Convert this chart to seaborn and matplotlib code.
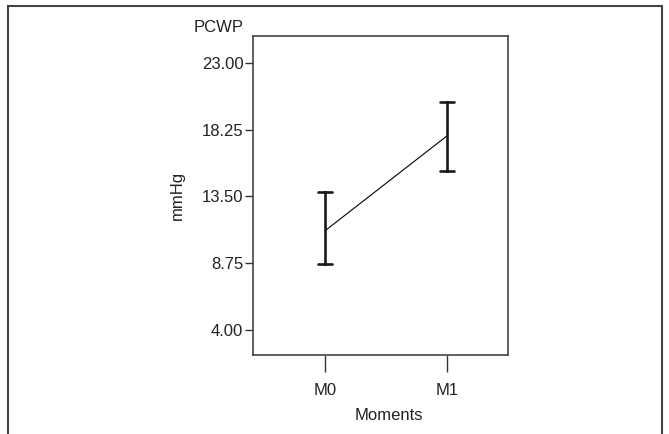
import numpy as np
import pandas as pd
import matplotlib
matplotlib.use("Agg")
import matplotlib.pyplot as plt
import seaborn as sns
from matplotlib.patches import Rectangle

# Data
moments = ["M0", "M1"]
means = [11.05, 17.8]
lower = [8.7, 15.3]
upper = [13.8, 20.2]
yticks = [4.00, 8.75, 13.50, 18.25, 23.00]

rows = []
for m, lo, mu, hi in zip(moments, lower, means, upper):
    for v in (lo, mu, hi):
        rows.append({"Moments": m, "mmHg": v})
df = pd.DataFrame(rows)

sns.set_style("white")
plt.rcParams["font.family"] = ["Liberation Sans", "DejaVu Sans"]

fig = plt.figure(figsize=(6.69, 4.34), dpi=100)
ax = fig.add_axes([253/669, 1 - 355/434, 255/669, 319/434])

sns.pointplot(data=df, x="Moments", y="mmHg", order=moments,
              estimator=np.median, errorbar=lambda x: (x.min(), x.max()),
              color="black", marker="", linestyle="-", linewidth=0.8,
              err_kws={"linewidth": 1.9, "color": "#1a1a1a"}, capsize=0.12,
              ax=ax)

ax.set_xlim(-0.59, 1.5)
ax.set_ylim(2.22, 24.9)
ax.set_yticks(yticks)
ax.set_yticklabels([f"{t:.2f}" for t in yticks])
ax.set_xlabel("")
ax.set_ylabel("mmHg", fontsize=12, color="#222222", labelpad=12)
ax.tick_params(axis="y", direction="out", length=6, width=1, colors="#333333",
               labelsize=12, labelcolor="#222222", left=True, pad=1)
ax.tick_params(axis="x", direction="out", length=12, width=1, colors="#333333",
               labelsize=12, labelcolor="#222222", bottom=True, pad=8)
for s in ax.spines.values():
    s.set_visible(True)
    s.set_color("#444444")
    s.set_linewidth(1.2)

fig.text(194/669, 1 - 27/434, "PCWP", fontsize=12, color="#222222",
         ha="left", va="center")
fig.text(389/669, 1 - 415/434, "Moments", fontsize=12, color="#222222",
         ha="center", va="center")

# outer frame (open at the bottom, cut off)
fig.patches.append(Rectangle((8/669, -0.1), (662-8)/669, 1.1 - 6/434,
                             transform=fig.transFigure, fill=False,
                             edgecolor="#444444", linewidth=1.5))

fig.savefig("out.png", dpi=100)
